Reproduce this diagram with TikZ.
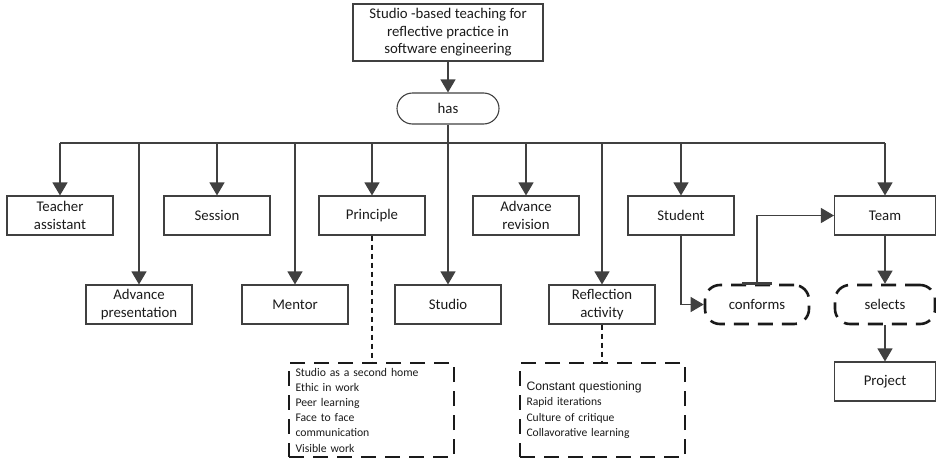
\documentclass[tikz,border=0pt]{standalone}
\usepackage{fontspec}
\setmainfont{Carlito}
\newfontfamily\arialf{Liberation Sans}
\usetikzlibrary{arrows.meta}
\definecolor{ln}{HTML}{404040}
\definecolor{tx}{HTML}{1A1A1A}
\tikzset{
  box/.style={draw=ln, line width=1.1pt, minimum width=106pt, minimum height=39pt, align=center, inner sep=2pt, text=tx, font=\fontsize{14.8}{17.5}\selectfont},
  conn/.style={draw=ln, line width=1.1pt},
  arr/.style={conn, -{Triangle[length=13pt,width=15pt]}},
  thickdash/.style={draw=tx, line width=2.6pt, dash pattern=on 15pt off 9pt},
  rel/.style={thickdash, rounded corners=15pt, minimum width=102pt, minimum height=39pt, text=tx, font=\fontsize{14.8}{17.5}\selectfont},
  listbox/.style={thickdash, minimum width=165pt, minimum height=94pt, text width=152pt, align=left, inner sep=0pt, text=tx},
  thindash/.style={draw=tx, line width=1.1pt, dash pattern=on 5pt off 4pt}
}
\begin{document}
\begin{tikzpicture}[x=1pt,y=-1pt]
\useasboundingbox (0,0) rectangle (936,458);
\node[box, minimum width=190pt, minimum height=57pt] (top) at (448,32.5) {Studio -based teaching for\\reflective practice in\\software engineering};
\node[box, rounded corners=15.5pt, minimum width=102pt, minimum height=31pt] (has) at (448,108.5) {has};
\coordinate (bus) at (448,143);
% row 1
\node[box] (ta) at (60,215.5) {Teacher\\assistant};
\node[box] (se) at (217,215.5) {Session};
\node[box] (pr) at (372,215.5) {Principle};
\node[box] (ar) at (526,215.5) {Advance\\revision};
\node[box] (st) at (681,215.5) {Student};
\node[box, minimum width=101pt] (team) at (885,215.5) {Team};
% row 2
\node[box] (ap) at (139,304.5) {Advance\\presentation};
\node[box] (me) at (295,304.5) {Mentor};
\node[box] (stu) at (448,304.5) {Studio};
\node[box] (ra) at (602,304.5) {Reflection\\activity};
\node[rel, minimum width=104pt] (conf) at (757,304.5) {conforms};
\node[rel, minimum width=100pt] (sel) at (885,304.5) {selects};
\node[box, minimum width=101pt] (proj) at (885,381.5) {Project};
% list boxes
\node[listbox, font=\fontsize{11.7}{15.2}\selectfont] (pbox) at (371.5,410) {Studio as a second home\\Ethic in work\\Peer learning\\Face to face\\communication\\Visible work};
\node[listbox, font=\fontsize{11.6}{15.4}\selectfont] (rbox) at (602.5,410) {{\arialf\fontsize{12.2}{15.4}\selectfont Constant questioning}\\Rapid iterations\\Culture of critique\\Collavorative learning};
% connectors
\draw[arr] (top) -- (has);
\draw[conn] (has) -- (bus);
\draw[conn] (bus -| ta) -- (bus -| team);
\foreach \n in {ta,se,pr,ar,st,team,ap,me,stu,ra}
  \draw[arr] (bus -| \n) -- (\n);
\draw[thindash] (pr.south) -- (pr.south |- pbox.north);
\draw[thindash] (ra.south) -- (ra.south |- rbox.north);
\draw[arr] (st.south) |- (conf.west);
\draw[conn, {Bar[width=30pt,line width=2.6pt,sep=-1.3pt]}-{Triangle[length=13pt,width=15pt]}] (conf.north) |- (team.west);
\draw[arr] (team.south) -- (sel.north);
\draw[arr] (sel.south) -- (proj.north);
\end{tikzpicture}
\end{document}
